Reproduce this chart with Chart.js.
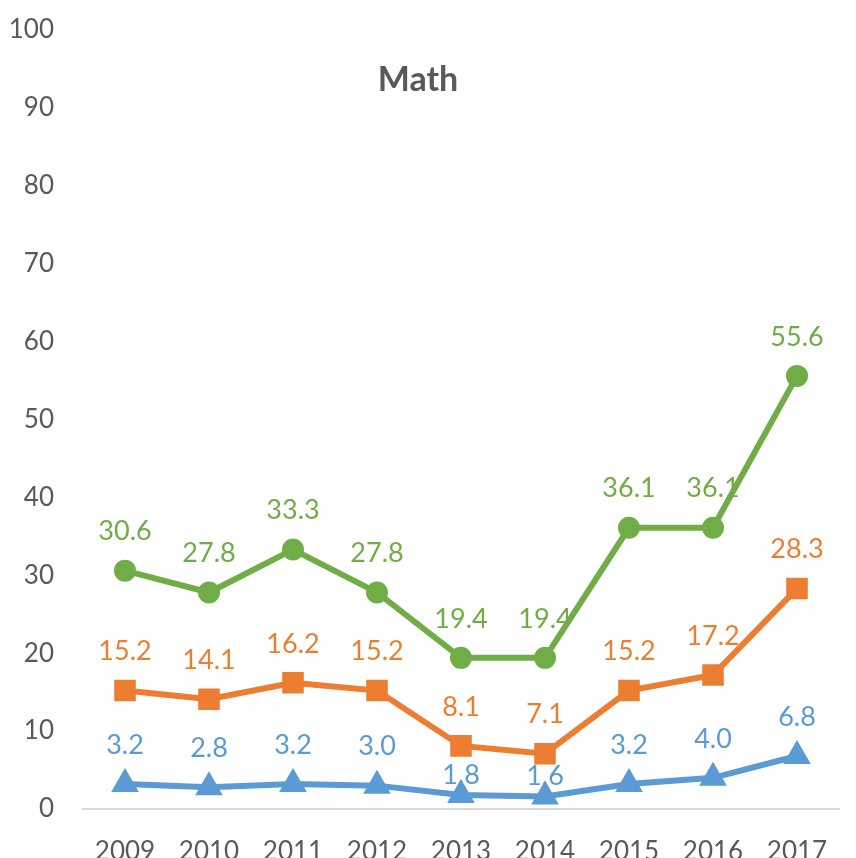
<!DOCTYPE html>
<html>
<head>
<meta charset="utf-8">
<title>Math</title>
<style>
  html, body { margin: 0; padding: 0; background: #fff; overflow: hidden; }
  #wrap { width: 856px; height: 872px; }
</style>
</head>
<body>
<div id="wrap"><canvas id="myChart" width="856" height="872"></canvas></div>

<script src="https://cdn.jsdelivr.net/npm/chart.js@4/dist/chart.umd.min.js"></script>
<script>
var years = ['2009', '2010', '2011', '2012', '2013', '2014', '2015', '2016', '2017'];
var greenValues = [30.6, 27.8, 33.3, 27.8, 19.4, 19.4, 36.1, 36.1, 55.6];
var orangeValues = [15.2, 14.1, 16.2, 15.2, 8.1, 7.1, 15.2, 17.2, 28.3];
var blueValues = [3.2, 2.8, 3.2, 3.0, 1.8, 1.6, 3.2, 4.0, 6.8];
var yTicks = [0, 10, 20, 30, 40, 50, 60, 70, 80, 90, 100];

var FONT = 'Lato, "Open Sans", sans-serif';

// labels above each point, drawn under the lines like in the original
// (the two low blue labels sit closer to their points so they clear the orange squares)
var pointLabels = {
  id: 'pointLabels',
  beforeDatasetsDraw: function(chart) {
    var ctx = chart.ctx;
    ctx.save();
    ctx.font = '27px ' + FONT;
    ctx.textAlign = 'center';
    ctx.textBaseline = 'middle';
    chart.data.datasets.forEach(function(ds, i) {
      var meta = chart.getDatasetMeta(i);
      ctx.fillStyle = ds.borderColor;
      meta.data.forEach(function(pt, j) {
        var off = 39;
        if (i == 0 && (j == 4 || j == 5)) off = 20;
        ctx.fillText(ds.data[j].toFixed(1), pt.x, pt.y - off);
      });
    });
    ctx.restore();
  }
};

var chartTitle = {
  id: 'chartTitle',
  afterDraw: function(chart) {
    var ctx = chart.ctx;
    ctx.save();
    ctx.font = 'bold 34px ' + FONT;
    ctx.fillStyle = '#595959';
    ctx.textAlign = 'center';
    ctx.textBaseline = 'middle';
    ctx.fillText('Math', 418, 80);
    ctx.restore();
  }
};

var ctx = document.getElementById('myChart').getContext('2d');
var myChart = new Chart(ctx, {
  type: 'line',
  data: {
    labels: years,
    datasets: [
      {
        label: 'blue',
        data: blueValues,
        borderColor: '#5B9BD5',
        backgroundColor: '#5B9BD5',
        borderWidth: 6,
        pointStyle: 'triangle',
        pointRadius: 10,
        pointHoverRadius: 10
      },
      {
        label: 'orange',
        data: orangeValues,
        borderColor: '#ED7D31',
        backgroundColor: '#ED7D31',
        borderWidth: 6,
        pointStyle: 'rect',
        pointRadius: 11,
        pointHoverRadius: 11
      },
      {
        label: 'green',
        data: greenValues,
        borderColor: '#70AD47',
        backgroundColor: '#70AD47',
        borderWidth: 6,
        pointStyle: 'circle',
        pointRadius: 8,
        pointHoverRadius: 8
      }
    ]
  },
  options: {
    responsive: false,
    animation: false,
    layout: { padding: { top: 30, right: 5, left: 8, bottom: 0 } },
    plugins: {
      legend: { display: false },
      tooltip: { enabled: false },
      title: { display: false }
    },
    scales: {
      x: {
        offset: true,
        grid: { display: false, drawTicks: false },
        border: { display: true, color: '#D9D9D9', width: 2 },
        ticks: { color: '#595959', font: { family: FONT, size: 26 }, padding: 27, maxRotation: 0 },
        afterFit: function(scale) { scale.height = 63; scale.paddingLeft = 0; scale.paddingRight = 0; }
      },
      y: {
        min: 0,
        max: 100,
        grid: { display: false, drawTicks: false },
        border: { display: false },
        afterBuildTicks: function(scale) {
          scale.ticks = yTicks.map(function(v) { return { value: v }; });
        },
        ticks: { color: '#595959', font: { family: FONT, size: 26 }, padding: 29 },
        afterFit: function(scale) { scale.width = 75; scale.paddingTop = 0; scale.paddingBottom = 0; }
      }
    }
  },
  plugins: [pointLabels, chartTitle]
});
</script>
</body>
</html>
